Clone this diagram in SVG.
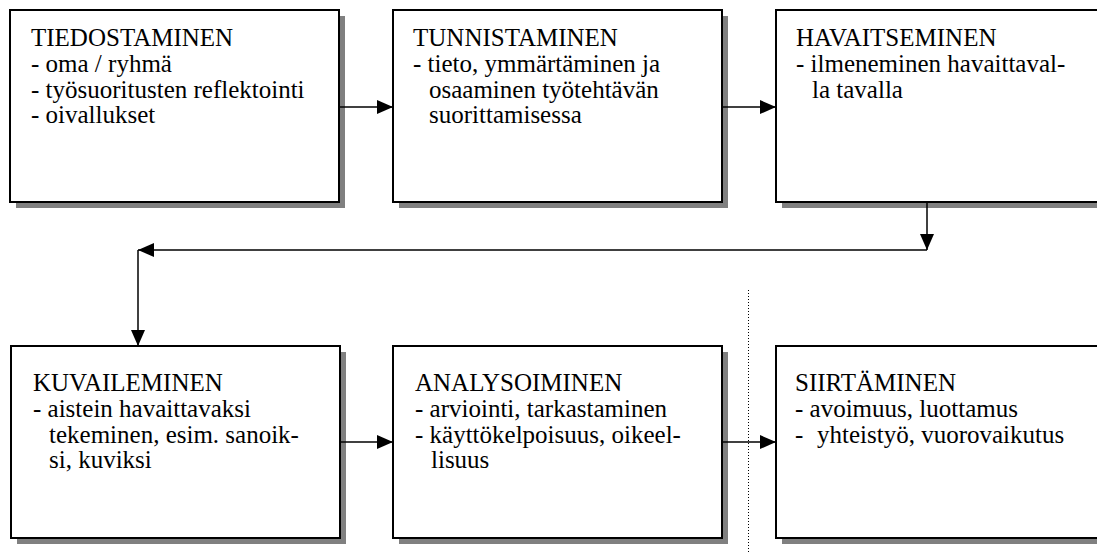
<svg xmlns="http://www.w3.org/2000/svg" width="1097" height="553" viewBox="0 0 1097 553">
  <style>
    .shadow { fill: #808080; stroke: none; }
    .box { fill: #ffffff; stroke: #000000; stroke-width: 2; }
    .label { font-family: "Liberation Serif", "Times New Roman", serif; font-size: 25px; fill: #000000; }
    .link { fill: none; stroke: #000000; stroke-width: 1.5; }
    .divider { fill: none; stroke: #000000; stroke-width: 1; stroke-dasharray: 1 2; }
  </style>
  <defs>
    <marker id="arrow" viewBox="0 0 16 14" refX="16" refY="7" markerWidth="16" markerHeight="14" markerUnits="userSpaceOnUse" orient="auto">
      <path d="M0,0 L16,7 L0,14 Z" fill="#000000"/>
    </marker>
  </defs>
  <rect width="1097" height="553" fill="#ffffff"/>

  <!-- divider between the analysis and transfer stages -->
  <line class="divider" x1="748.5" y1="290" x2="748.5" y2="553"/>

  <g id="node-tiedostaminen">
    <rect class="shadow" x="16" y="16" width="329" height="192"/>
    <rect class="box" x="10" y="10" width="329" height="192"/>
    <text class="label">
      <tspan x="31" y="46">TIEDOSTAMINEN</tspan>
      <tspan x="31" y="72">- oma / ryhmä</tspan>
      <tspan x="31" y="97.5">- työsuoritusten reflektointi</tspan>
      <tspan x="31" y="123">- oivallukset</tspan>
    </text>
  </g>

  <g id="node-tunnistaminen">
    <rect class="shadow" x="399" y="16" width="329" height="192"/>
    <rect class="box" x="393" y="10" width="329" height="192"/>
    <text class="label">
      <tspan x="413" y="46">TUNNISTAMINEN</tspan>
      <tspan x="413" y="72">- tieto, ymmärtäminen ja</tspan>
      <tspan x="429" y="97.5">osaaminen työtehtävän</tspan>
      <tspan x="429" y="123">suorittamisessa</tspan>
    </text>
  </g>

  <g id="node-havaitseminen">
    <rect class="shadow" x="782" y="16" width="329" height="192"/>
    <rect class="box" x="776" y="10" width="329" height="192"/>
    <text class="label">
      <tspan x="796" y="46">HAVAITSEMINEN</tspan>
      <tspan x="796" y="72">- ilmeneminen havaittaval-</tspan>
      <tspan x="812" y="97.5">la tavalla</tspan>
    </text>
  </g>

  <g id="node-kuvaileminen">
    <rect class="shadow" x="17" y="352" width="329" height="192"/>
    <rect class="box" x="11" y="346" width="329" height="192"/>
    <text class="label">
      <tspan x="33" y="391">KUVAILEMINEN</tspan>
      <tspan x="33" y="417">- aistein havaittavaksi</tspan>
      <tspan x="49" y="442.5">tekeminen, esim. sanoik-</tspan>
      <tspan x="49" y="468">si, kuviksi</tspan>
    </text>
  </g>

  <g id="node-analysoiminen">
    <rect class="shadow" x="399" y="352" width="329" height="192"/>
    <rect class="box" x="393" y="346" width="329" height="192"/>
    <text class="label">
      <tspan x="415" y="391">ANALYSOIMINEN</tspan>
      <tspan x="415" y="417">- arviointi, tarkastaminen</tspan>
      <tspan x="415" y="442.5">- käyttökelpoisuus, oikeel-</tspan>
      <tspan x="431" y="468">lisuus</tspan>
    </text>
  </g>

  <g id="node-siirtaminen">
    <rect class="shadow" x="782" y="352" width="329" height="192"/>
    <rect class="box" x="776" y="346" width="329" height="192"/>
    <text class="label">
      <tspan x="795" y="391">SIIRTÄMINEN</tspan>
      <tspan x="795" y="417">- avoimuus, luottamus</tspan>
      <tspan x="795" y="442.5">-</tspan>
      <tspan x="817" y="442.5">yhteistyö, vuorovaikutus</tspan>
    </text>
  </g>

  <g id="connectors">
    <line class="link" x1="340" y1="107" x2="393" y2="107" marker-end="url(#arrow)"/>
    <line class="link" x1="723" y1="107" x2="776" y2="107" marker-end="url(#arrow)"/>
    <line class="link" x1="927" y1="203" x2="927" y2="250" marker-end="url(#arrow)"/>
    <line class="link" x1="927" y1="250" x2="138" y2="250" marker-end="url(#arrow)"/>
    <line class="link" x1="138" y1="250" x2="138" y2="346" marker-end="url(#arrow)"/>
    <line class="link" x1="341" y1="442" x2="393" y2="442" marker-end="url(#arrow)"/>
    <line class="link" x1="723" y1="442" x2="776" y2="442" marker-end="url(#arrow)"/>
  </g>
</svg>
